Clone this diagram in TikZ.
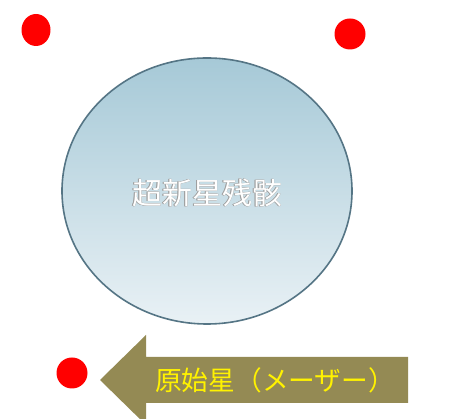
\documentclass[tikz,border=0pt]{standalone}
\usepackage{fontspec}
\newfontfamily\cjk{Noto Sans CJK JP}
\usetikzlibrary{shapes.geometric}
\definecolor{dotred}{HTML}{FF0000}
\definecolor{arrowolive}{HTML}{948A54}
\definecolor{rimblue}{HTML}{557585}
\definecolor{topblue}{HTML}{A6C9D7}
\definecolor{botblue}{HTML}{E9F1F5}
\tikzset{
  reddot/.style={circle, fill=dotred, draw=none, minimum size=31pt, inner sep=0pt},
  remnant/.style={ellipse, draw=rimblue, line width=1.6pt, top color=topblue, bottom color=botblue, minimum width=290pt, minimum height=266pt, inner sep=0pt},
  outlinetxt/.style={font=\cjk\fontsize{30}{32}\selectfont, inner sep=0pt},
}
\begin{document}
\begin{tikzpicture}[x=1pt,y=1pt]
\useasboundingbox (0,0) rectangle (458,419);
\clip (0,0) rectangle (458,419);
\fill[white] (0,0) rectangle (458,419);
% red dots
\node[reddot, minimum width=29pt, minimum height=32pt, ellipse] (d1) at (36,389) {};
\node[reddot] (d2) at (350,385) {};
\node[reddot] (d3) at (72,46) {};
% remnant
\node[remnant] (snr) at (207,228) {};
\node[outlinetxt, text=gray!75] at (206.6,225.6) {超新星残骸};
\node[outlinetxt, text=gray!75] at (207.4,226.4) {超新星残骸};
\node[outlinetxt, text=gray!75] at (206.6,226.4) {超新星残骸};
\node[outlinetxt, text=gray!75] at (207.4,225.6) {超新星残骸};
\node[outlinetxt, text=white] (lbl) at (207,226) {超新星残骸};
% arrow
\fill[arrowolive] (100,39) -- (146,84) -- (146,62) -- (408,62) -- (408,16) -- (146,16) -- (146,-6) -- cycle;
\node[font=\cjk\fontsize{26.7}{28}\selectfont, text=yellow, inner sep=0pt, anchor=west] (proto) at (155,39) {原始星（メーザー）};
\end{tikzpicture}
\end{document}
